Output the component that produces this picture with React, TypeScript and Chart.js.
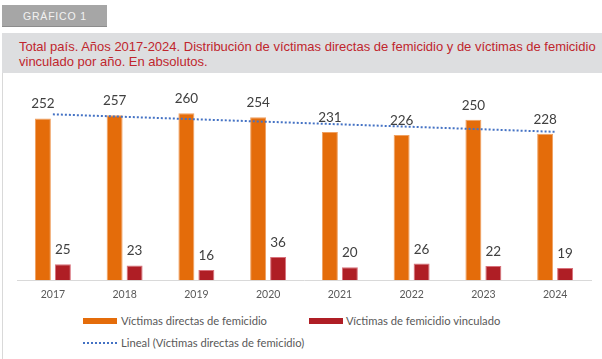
import React, { useEffect, useRef } from "react";
import { Chart, registerables } from "chart.js";

Chart.register(...registerables);

const years = ["2017", "2018", "2019", "2020", "2021", "2022", "2023", "2024"];
const directas = [252, 257, 260, 254, 231, 226, 250, 228];
const vinculado = [25, 23, 16, 36, 20, 26, 22, 19];
// linear trend of "directas" (start and end only)
const trendLine = [258.4, null, null, null, null, null, null, 231.1];

const ORANGE = "#E46C0A";
const RED = "#AF1E25";
const BLUE = "#4472C4";
const FONT = "Lato";

const valueLabels = {
  id: "valueLabels",
  afterDatasetsDraw(chart: any) {
    const ctx = chart.ctx;
    ctx.save();
    ctx.font = `13.5px ${FONT}`;
    ctx.fillStyle = "#404040";
    ctx.textAlign = "center";
    ctx.textBaseline = "alphabetic";
    chart.data.datasets.forEach((ds: any, i: number) => {
      if (ds.type === "line") return;
      const meta = chart.getDatasetMeta(i);
      meta.data.forEach((el: any, j: number) => {
        ctx.fillText(String(ds.data[j]), el.x, el.y - 10);
      });
    });
    ctx.restore();
  },
};

function ChartView() {
  const ref = useRef<HTMLCanvasElement>(null);
  useEffect(() => {
    if (!ref.current) return;
    const chart = new Chart(ref.current, {
      type: "bar",
      data: {
        labels: years,
        datasets: [
          {
            type: "line",
            label: "Lineal (Víctimas directas de femicidio)",
            data: trendLine as any,
            borderColor: BLUE,
            borderWidth: 2,
            borderDash: [2, 2],
            pointRadius: 0,
            spanGaps: true,
            fill: false,
            order: 0,
          } as any,
          {
            label: "Víctimas directas de femicidio",
            data: directas,
            backgroundColor: ORANGE,
            borderColor: "#F0A060",
            borderWidth: 1,
            categoryPercentage: 0.557,
            barPercentage: 0.8,
            order: 1,
          },
          {
            label: "Víctimas de femicidio vinculado",
            data: vinculado,
            backgroundColor: RED,
            borderColor: "#D8707A",
            borderWidth: 1,
            categoryPercentage: 0.557,
            barPercentage: 0.8,
            order: 1,
          },
        ],
      },
      options: {
        responsive: false,
        animation: false,
        layout: { padding: { left: 17, right: 11, top: 7.6, bottom: 0.4 } },
        plugins: {
          legend: { display: false },
          tooltip: { enabled: false },
          title: { display: false },
        },
        scales: {
          y: { display: false, min: 0, max: 300 },
          x: {
            grid: { display: false, drawTicks: false },
            border: { display: true, color: "#D9D9D9", width: 1 },
            ticks: {
              color: "#595959",
              font: { family: FONT, size: 10.5 },
              padding: 8.4,
              maxRotation: 0,
            },
          },
        },
      },
      plugins: [valueLabels],
    });
    return () => chart.destroy();
  }, []);
  return <canvas ref={ref} width={602} height={230} />;
}

export default function App() {
  const legendText: React.CSSProperties = {
    position: "absolute",
    fontFamily: FONT,
    fontSize: 11.2,
    color: "#595959",
    lineHeight: "14px",
    whiteSpace: "nowrap",
  };
  return (
    <div
      style={{
        position: "absolute",
        left: 0,
        top: 0,
        width: 602,
        height: 359,
        background: "#fff",
        overflow: "hidden",
      }}
    >
      <div
        style={{
          position: "absolute",
          left: 2,
          top: 5,
          width: 105,
          height: 22,
          background: "#A6A6A6",
          borderBottom: "1px solid #8C8C8C",
          boxSizing: "border-box",
        }}
      >
        <span
          style={{
            position: "absolute",
            left: 21,
            top: 5,
            fontFamily: "Liberation Sans",
            fontSize: 10.5,
            letterSpacing: 0.8,
            color: "#F2F2F2",
            lineHeight: "12px",
          }}
        >
          GRÁFICO 1
        </span>
      </div>
      <div
        style={{
          position: "absolute",
          left: 2,
          top: 33,
          width: 600,
          height: 40,
          background: "#DDDEE0",
        }}
      >
        <div
          style={{
            position: "absolute",
            left: 17,
            top: 6,
            fontFamily: "Liberation Sans",
            fontSize: 13,
            lineHeight: "15px",
            color: "#C0262D",
            whiteSpace: "nowrap",
          }}
        >
          Total país. Años 2017-2024. Distribución de víctimas directas de femicidio y de víctimas de femicidio
          <br />
          vinculado por año. En absolutos.
        </div>
      </div>
      <div
        style={{
          position: "absolute",
          left: 2,
          top: 73,
          width: 1,
          height: 286,
          background: "#D9D9D9",
        }}
      />
      <div style={{ position: "absolute", left: 0, top: 80, width: 602, height: 230 }}>
        <ChartView />
      </div>
      {/* legend */}
      <div style={{ position: "absolute", left: 83, top: 318, width: 34, height: 6, background: ORANGE }} />
      <span style={{ ...legendText, left: 121, top: 314 }}>Víctimas directas de femicidio</span>
      <div style={{ position: "absolute", left: 309, top: 318, width: 34, height: 6, background: RED }} />
      <span style={{ ...legendText, left: 346, top: 314 }}>Víctimas de femicidio vinculado</span>
      <div
        style={{
          position: "absolute",
          left: 83,
          top: 342,
          width: 34,
          height: 2,
          background: `repeating-linear-gradient(to right, ${BLUE} 0px, ${BLUE} 2px, transparent 2px, transparent 4px)`,
        }}
      />
      <span style={{ ...legendText, left: 121, top: 336 }}>Lineal (Víctimas directas de femicidio)</span>
    </div>
  );
}
